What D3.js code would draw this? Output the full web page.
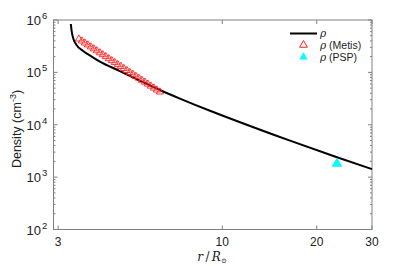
<!DOCTYPE html>
<html>
<head>
<meta charset="utf-8">
<script src="https://cdn.jsdelivr.net/npm/d3@7"></script>
<style>
  body { margin: 0; padding: 0; background: #fff; }
  text { font-family: "Liberation Sans", Arial, sans-serif; fill: #222; }
</style>
</head>
<body>
<script>
// model curve rho(r)
var modelR   = [3.293, 3.318, 3.349, 3.434, 3.604, 3.871, 4.075, 4.718, 5.478, 6.33, 7.33, 9.14, 10, 16.44, 23.2, 30];
var modelRho = [8.39e5, 5.78e5, 4.54e5, 3.33e5, 2.56e5, 1.94e5, 1.61e5, 1.06e5, 6.91e4, 4.61e4, 3.16e4, 1.85e4, 1.505e4, 4.97e3, 2.40e3, 1.42e3];

// Metis points
var metisR   = [3.493, 3.571, 3.650, 3.731, 3.814, 3.898, 3.985, 4.074, 4.164, 4.257, 4.352, 4.448, 4.547, 4.649,
                4.753, 4.859, 4.967, 5.077, 5.191, 5.307, 5.424, 5.546, 5.669, 5.795, 5.925, 6.057, 6.191, 6.330];
var metisRho = [4.34e5, 3.98e5, 3.65e5, 3.35e5, 3.07e5, 2.82e5, 2.59e5, 2.37e5, 2.18e5, 2.00e5, 1.83e5, 1.68e5, 1.54e5, 1.41e5,
                1.30e5, 1.19e5, 1.09e5, 1.00e5, 9.19e4, 8.43e4, 7.74e4, 7.10e4, 6.51e4, 5.97e4, 5.48e4, 5.03e4, 4.61e4, 4.23e4];

// PSP point
var pspR = [23.2];
var pspRho = [1.80e3];

var xTicks = [3, 10, 20, 30];
var yTicks = [1e2, 1e3, 1e4, 1e5, 1e6];
var yExp = ["2", "3", "4", "5", "6"];

var W = 411, H = 266;
var svg = d3.select("body").append("svg").attr("width", W).attr("height", H);

var x = d3.scaleLog().domain([2.9, 30]).range([53.5, 372]);
var y = d3.scaleLog().domain([1e2, 1e6]).range([229.5, 20]);

var axisCol = "#808080";

// frame
svg.append("rect")
  .attr("x", x.range()[0]).attr("y", y.range()[1])
  .attr("width", x.range()[1] - x.range()[0])
  .attr("height", y.range()[0] - y.range()[1])
  .attr("fill", "none").attr("stroke", axisCol).attr("stroke-width", 1);

// y minor + major ticks, left and right, pointing in
var yMinor = [];
for (var e = 2; e < 6; e++) {
  for (var k = 2; k <= 9; k++) yMinor.push(k * Math.pow(10, e));
}
var ticks = svg.append("g").attr("stroke", axisCol).attr("stroke-width", 1);
yMinor.forEach(function(v) {
  ticks.append("line").attr("x1", x.range()[0]).attr("x2", x.range()[0] + 2).attr("y1", y(v)).attr("y2", y(v));
  ticks.append("line").attr("x1", x.range()[1]).attr("x2", x.range()[1] - 2).attr("y1", y(v)).attr("y2", y(v));
});
yTicks.forEach(function(v) {
  ticks.append("line").attr("x1", x.range()[0]).attr("x2", x.range()[0] + 4).attr("y1", y(v)).attr("y2", y(v));
  ticks.append("line").attr("x1", x.range()[1]).attr("x2", x.range()[1] - 4).attr("y1", y(v)).attr("y2", y(v));
});
xTicks.forEach(function(v) {
  ticks.append("line").attr("x1", x(v)).attr("x2", x(v)).attr("y1", y.range()[0]).attr("y2", y.range()[0] - 4);
  ticks.append("line").attr("x1", x(v)).attr("x2", x(v)).attr("y1", y.range()[1]).attr("y2", y.range()[1] + 4);
});

// y tick labels  10^n
yTicks.forEach(function(v, i) {
  svg.append("text").attr("x", 41).attr("y", y(v) + 5)
    .attr("text-anchor", "end").style("font-size", "13px").text("10");
  svg.append("text").attr("x", 42).attr("y", y(v) - 1)
    .style("font-size", "9.5px").text(yExp[i]);
});

// x tick labels
xTicks.forEach(function(v) {
  svg.append("text").attr("x", x(v)).attr("y", 246)
    .attr("text-anchor", "middle").style("font-size", "12px").text(v);
});

// x axis title r/R_sun
var xt = svg.append("text").attr("x", 212).attr("y", 261).attr("text-anchor", "middle")
  .style("font-family", "'DejaVu Serif', 'Liberation Serif', serif").style("font-size", "12px").style("font-style", "italic");
xt.append("tspan").text("r");
xt.append("tspan").style("font-style", "normal").text("\u2009/\u2009");
xt.append("tspan").text("R");
xt.append("tspan").attr("dy", 1.5).style("font-size", "7px").style("font-style", "normal").text("\u2299");

// y axis title
var yt = svg.append("text").attr("transform", "translate(21,129) rotate(-90)")
  .attr("text-anchor", "middle").style("font-size", "12.5px");
yt.append("tspan").text("Density  (cm");
yt.append("tspan").attr("dy", -5).style("font-size", "9px").text("-3");
yt.append("tspan").attr("dy", 5).text(")");

// model line
var modelData = modelR.map(function(r, i) { return [r, modelRho[i]]; });
var line = d3.line()
  .x(function(d) { return x(d[0]); })
  .y(function(d) { return y(d[1]); })
  .curve(d3.curveMonotoneX);
svg.append("path").datum(modelData).attr("d", line)
  .attr("fill", "none").attr("stroke", "#000").attr("stroke-width", 2);

// Metis markers
var triUp = d3.symbol().type(d3.symbolTriangle).size(22);
svg.append("g").selectAll("path").data(metisR).enter().append("path")
  .attr("d", triUp)
  .attr("transform", function(d, i) { return "translate(" + x(d) + "," + y(metisRho[i]) + ")"; })
  .attr("fill", "none").attr("stroke", "#ff2020").attr("stroke-width", 0.9);

// PSP marker
svg.append("g").selectAll("path").data(pspR).enter().append("path")
  .attr("d", d3.symbol().type(d3.symbolTriangle).size(42))
  .attr("transform", function(d, i) { return "translate(" + x(d) + "," + y(pspRho[i]) + ")"; })
  .attr("fill", "#00ffff").attr("stroke", "#00e5e5").attr("stroke-width", 0.5);

// legend
var lg = svg.append("g");
lg.append("line").attr("x1", 290).attr("x2", 317).attr("y1", 33.5).attr("y2", 33.5)
  .attr("stroke", "#000").attr("stroke-width", 2);
lg.append("path").attr("d", d3.symbol().type(d3.symbolTriangle).size(26))
  .attr("transform", "translate(303.5,45)")
  .attr("fill", "none").attr("stroke", "#ff2020").attr("stroke-width", 1);
lg.append("path").attr("d", d3.symbol().type(d3.symbolTriangle).size(30))
  .attr("transform", "translate(303.5,57)")
  .attr("fill", "#00ffff");
var labels = ["", " (Metis)", " (PSP)"];
labels.forEach(function(s, i) {
  var t = lg.append("text").attr("x", 320).attr("y", 37 + i * 12).style("font-size", "10.5px");
  t.append("tspan").style("font-style", "italic").style("font-family", "'DejaVu Serif', serif").text("\u03c1");
  t.append("tspan").text(s);
});
</script>
</body>
</html>
